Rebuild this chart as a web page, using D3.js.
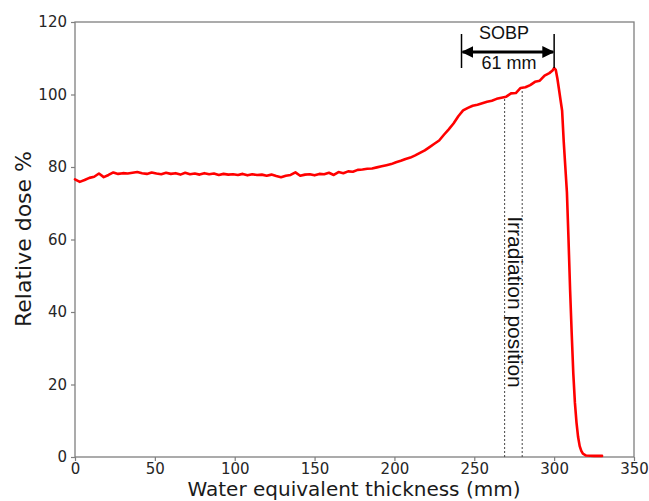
<!DOCTYPE html>
<html>
<head>
<meta charset="utf-8">
<script src="https://cdn.jsdelivr.net/npm/d3@7"></script>
<style>
html,body{margin:0;padding:0;background:#fff;}
svg{display:block;}
</style>
</head>
<body>
<svg id="chart" width="649" height="501"></svg>
<script>
// ---- data ----
const depth = [0,3,6,9,12,15,18,21,24,27,30,33,36,39,42,45,48,51,54,57,60,63,66,69,72,75,78,81,84,87,90,93,96,99,102,105,108,111,114,117,120,123,126,129,132,135,138,141,144,147,150,153,156,159,162,165,168,171,174,177,180,183,186,189,192,195,198,201,204,207,210,213,216,219,222,225,228,231,234,237,240,243,246,249,252,255,258,261,264,267,270,273,276,279,282,285,288,291,294,297,299,300,301,302,303,304,305,306,307,308,309,310,311,312,313,314,315,316,317,318,320,325,330];
const dose = [76.6,75.9,76.4,77.0,77.3,78.2,77.2,77.8,78.5,78.1,78.3,78.2,78.4,78.6,78.3,78.1,78.5,78.2,78.0,78.4,78.1,78.3,77.9,78.4,78.0,78.2,77.9,78.3,78.0,78.2,77.8,78.1,77.9,78.0,77.8,78.1,77.7,78.0,77.8,77.9,77.6,77.9,77.5,77.2,77.6,77.8,78.5,77.6,77.9,78.0,77.7,78.1,78.0,78.4,77.8,78.6,78.3,78.8,78.7,79.2,79.3,79.5,79.6,79.9,80.2,80.5,80.8,81.3,81.7,82.2,82.6,83.2,83.9,84.6,85.5,86.4,87.3,88.9,90.4,92.0,94.0,95.6,96.3,96.9,97.2,97.6,98.0,98.3,98.8,99.1,99.4,100.3,100.4,101.8,102.0,102.6,103.5,103.8,105.2,105.9,106.6,107.3,106.8,104.5,101.5,98.5,95.5,87,80,73,60,46,34,23,15,9.5,5.5,3,1.7,0.9,0.4,0.3,0.3];
const irradiation = [269, 280];
const irradiationTop = [99.3, 101.5];
const sobp = [242, 300];
const xTicks = [0,50,100,150,200,250,300,350];
const yTicks = [0,20,40,60,80,100,120];

// ---- layout ----
const svg = d3.select("#chart");
const L = 75, R = 634, T = 22, B = 457;
const x = d3.scaleLinear().domain([0,350]).range([L,R]);
const y = d3.scaleLinear().domain([0,120]).range([B,T]);
const axisColor = "#7f7f7f";
const tickFont = "DejaVu Sans, sans-serif";

// frame
svg.append("rect").attr("x",L).attr("y",T).attr("width",R-L).attr("height",B-T)
  .attr("fill","none").attr("stroke",axisColor).attr("stroke-width",1.3);

// axes
const gx = svg.append("g").attr("transform",`translate(0,${B})`)
  .call(d3.axisBottom(x).tickValues(xTicks).tickSize(4).tickPadding(2).tickFormat(d3.format("d")));
const gy = svg.append("g").attr("transform",`translate(${L},0)`)
  .call(d3.axisLeft(y).tickValues(yTicks).tickSize(4).tickPadding(4).tickFormat(d3.format("d")));
[gx,gy].forEach(g=>{
  g.select(".domain").remove();
  g.selectAll(".tick line").attr("stroke",axisColor).attr("stroke-width",1.2);
  g.selectAll(".tick text").attr("fill","#262626").style("font-family",tickFont).style("font-size","15px");
});

// irradiation lines
svg.append("g").selectAll("line").data(irradiation).join("line")
  .attr("x1",d=>x(d)).attr("x2",d=>x(d))
  .attr("y1",y(0)).attr("y2",(d,i)=>y(irradiationTop[i]))
  .attr("stroke","#444").attr("stroke-width",1).attr("stroke-dasharray","2,2");

// dose curve
const line = d3.line().x((d,i)=>x(depth[i])).y(d=>y(d)).curve(d3.curveLinear);
svg.append("path").datum(dose).attr("d",line)
  .attr("fill","none").attr("stroke","#ff0000").attr("stroke-width",2.6)
  .attr("stroke-linejoin","round").attr("stroke-linecap","round");

// SOBP annotation
const defs = svg.append("defs");
defs.append("marker").attr("id","ah").attr("viewBox","0 0 10 10").attr("refX",9).attr("refY",5)
  .attr("markerWidth",4).attr("markerHeight",4).attr("orient","auto-start-reverse")
  .attr("markerUnits","strokeWidth")
  .append("path").attr("d","M0,0 L10,5 L0,10 z").attr("fill","#000");
const ay = 52;
svg.append("line").attr("x1",x(sobp[0])+1).attr("x2",x(sobp[1])-1).attr("y1",ay).attr("y2",ay)
  .attr("stroke","#000").attr("stroke-width",3)
  .attr("marker-start","url(#ah)").attr("marker-end","url(#ah)");
svg.append("g").selectAll("line").data(sobp).join("line")
  .attr("x1",d=>x(d)).attr("x2",d=>x(d)).attr("y1",34).attr("y2",68)
  .attr("stroke","#000").attr("stroke-width",1.5);
svg.append("text").attr("x",504).attr("y",39).attr("text-anchor","middle")
  .style("font-family","Liberation Sans, Arial, sans-serif").style("font-size","18px").attr("fill","#111").text("SOBP");
svg.append("text").attr("x",509).attr("y",69).attr("text-anchor","middle")
  .style("font-family","Liberation Sans, Arial, sans-serif").style("font-size","18px").attr("fill","#111").text("61 mm");

// irradiation label
svg.append("text").attr("transform","translate(508,302) rotate(90)").attr("text-anchor","middle")
  .style("font-family","Liberation Sans, Arial, sans-serif").style("font-size","21px").attr("fill","#111")
  .text("Irradiation position");

// axis labels
svg.append("text").attr("x",354).attr("y",496).attr("text-anchor","middle")
  .style("font-family",tickFont).style("font-size","20px").attr("fill","#1a1a1a")
  .text("Water equivalent thickness (mm)");
svg.append("text").attr("transform","translate(31,239) rotate(-90)").attr("text-anchor","middle")
  .style("font-family",tickFont).style("font-size","22px").attr("fill","#1a1a1a")
  .text("Relative dose %");
</script>
</body>
</html>
